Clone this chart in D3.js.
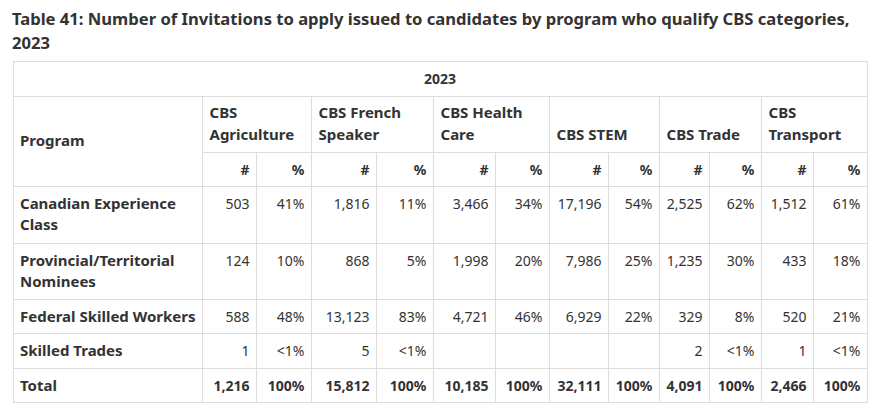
<!DOCTYPE html>
<html><head><meta charset="utf-8">
<script src="https://cdn.jsdelivr.net/npm/d3@7"></script>
<style>
body{margin:0;background:#fff;}
text{font-family:"Noto Sans",sans-serif;fill:#333;font-size:14px;}
.b{font-weight:700;}
.lab{font-size:15px;}
</style>
</head><body><svg id="c" width="887" height="411"></svg>
<script>
// ---- data ----
const titleLines = ["Table 41: Number of Invitations to apply issued to candidates by program who qualify CBS categories,", "2023"];
const yearLabel = "2023";
const programHeader = "Program";
const categories = ["CBS\nAgriculture", "CBS French\nSpeaker", "CBS Health\nCare", "CBS STEM", "CBS Trade", "CBS\nTransport"];
const subHeaders = ["#", "%"];
const programs = ["Canadian Experience\nClass", "Provincial/Territorial\nNominees", "Federal Skilled Workers", "Skilled Trades", "Total"];
// counts and percentages per category (0 percent means "<1%", null = blank)
const agricultureCounts = [503, 124, 588, 1, 1216];
const agriculturePct    = [41, 10, 48, 0, 100];
const frenchCounts      = [1816, 868, 13123, 5, 15812];
const frenchPct         = [11, 5, 83, 0, 100];
const healthCounts      = [3466, 1998, 4721, null, 10185];
const healthPct         = [34, 20, 46, null, 100];
const stemCounts        = [17196, 7986, 6929, null, 32111];
const stemPct           = [54, 25, 22, null, 100];
const tradeCounts       = [2525, 1235, 329, 2, 4091];
const tradePct          = [62, 30, 8, 0, 100];
const transportCounts   = [1512, 433, 520, 1, 2466];
const transportPct      = [61, 18, 21, 0, 100];

const seriesCounts = [agricultureCounts, frenchCounts, healthCounts, stemCounts, tradeCounts, transportCounts];
const seriesPct = [agriculturePct, frenchPct, healthPct, stemPct, tradePct, transportPct];

// ---- layout ----
const colEdges = [13, 202, 256, 311, 376, 433, 495, 549, 608, 659, 709, 761, 813, 867];
const rowEdges = [61, 96, 152, 186, 243, 299, 333, 368, 402];
const xCol = d3.scaleOrdinal().domain(d3.range(colEdges.length)).range(colEdges);
const yRow = d3.scaleOrdinal().domain(d3.range(rowEdges.length)).range(rowEdges);

const svg = d3.select("#c");
const grid = "#dddddd";
const fmtN = d3.format(",");
const fmtP = v => v === null ? "" : (v < 1 ? "<1%" : v + "%");

// title
svg.append("g").selectAll("text").data(titleLines).join("text")
  .attr("class", "b").attr("x", 12).attr("y", (d, i) => 24.5 + i * 24)
  .style("font-size", "16.6px").text(d => d);

// grid lines
const g = svg.append("g").attr("stroke", grid).attr("stroke-width", 1).attr("shape-rendering", "crispEdges");
const L = colEdges[0], R = colEdges[colEdges.length - 1];
const T = rowEdges[0], B = rowEdges[rowEdges.length - 1];
const hLines = rowEdges.map((y, i) => ({x1: i === 2 ? xCol(1) : L, x2: R, y}));
g.selectAll("line.h").data(hLines).join("line").attr("class", "h")
  .attr("x1", d => d.x1).attr("x2", d => d.x2 + 0.5).attr("y1", d => d.y + 0.5).attr("y2", d => d.y + 0.5);
const vLines = colEdges.map((x, i) => {
  let y1;
  if (i === 0 || i === colEdges.length - 1) y1 = T;
  else if (i % 2 === 1) y1 = yRow(1);
  else y1 = yRow(2);
  return {x, y1};
});
g.selectAll("line.v").data(vLines).join("line").attr("class", "v")
  .attr("x1", d => d.x + 0.5).attr("x2", d => d.x + 0.5).attr("y1", d => d.y1).attr("y2", B + 0.5);

// year header
svg.append("text").attr("class", "b").attr("x", (L + R) / 2).attr("y", 84)
  .attr("text-anchor", "middle").text(yearLabel);

// program header
svg.append("text").attr("class", "b lab").attr("x", L + 7).attr("y", 146.3).text(programHeader);

// category headers (bottom aligned)
const catG = svg.append("g").selectAll("text").data(categories).join("text")
  .attr("class", "b lab").attr("x", (d, i) => xCol(1 + 2 * i) + 7.5);
catG.each(function(d) {
  const lines = d.split("\n");
  d3.select(this).selectAll("tspan").data(lines).join("tspan")
    .attr("x", d3.select(this).attr("x"))
    .attr("y", (l, j) => 140.3 - (lines.length - 1 - j) * 22)
    .text(l => l);
});

// sub headers
const subs = [];
categories.forEach((c, i) => subHeaders.forEach((s, j) => subs.push({s, col: 1 + 2 * i + j})));
svg.append("g").selectAll("text").data(subs).join("text")
  .attr("class", "b").attr("text-anchor", "end")
  .attr("x", d => xCol(d.col + 1) - 6.5).attr("y", 175).text(d => d.s);

// program labels
const progT = svg.append("g").selectAll("text").data(programs).join("text")
  .attr("class", "b lab").attr("x", L + 7);
progT.each(function(d, i) {
  const lines = d.split("\n");
  d3.select(this).selectAll("tspan").data(lines).join("tspan")
    .attr("x", L + 7).attr("y", (l, j) => yRow(3 + i) + 23.3 + j * 21).text(l => l);
});

// values
const cells = [];
programs.forEach((p, r) => {
  seriesCounts.forEach((arr, c) => {
    cells.push({t: arr[r] === null ? "" : fmtN(arr[r]), col: 1 + 2 * c, r});
    cells.push({t: fmtP(seriesPct[c][r]), col: 2 + 2 * c, r});
  });
});
svg.append("g").selectAll("text").data(cells).join("text")
  .attr("class", d => d.r === programs.length - 1 ? "b" : null)
  .attr("text-anchor", "end")
  .attr("x", d => xCol(d.col + 1) - 6.5)
  .attr("y", d => yRow(3 + d.r) + 23)
  .text(d => d.t);
</script>
</body></html>
